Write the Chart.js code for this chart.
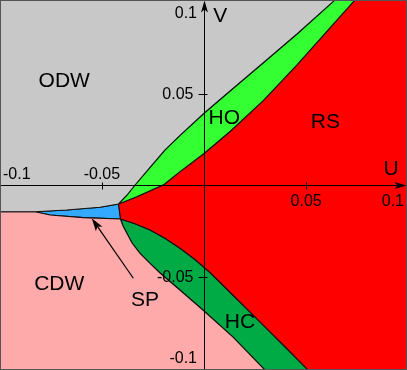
<!DOCTYPE html>
<html><head><meta charset="utf-8">
<script src="https://cdn.jsdelivr.net/npm/chart.js@4/dist/chart.umd.min.js"></script>
<style>html,body{margin:0;padding:0;background:#fff;}canvas{display:block}</style>
</head><body>
<canvas id="c" width="407" height="370"></canvas>
<script>
// Phase boundaries, as [U, V] pairs
const boundaryOdwHo = [[-0.04185,-0.01024],[-0.03769,-0.00531],[-0.03377,0.00016],[-0.02643,0.00974],[-0.01909,0.01932],[-0.01175,0.02726],[0,0.03941],[0.01273,0.05161],[0.02888,0.06694],[0.04552,0.08281],[0.06412,0.10142],[0.0727,0.11]];
const boundaryHoRs = [[-0.04185,-0.01024],[-0.03294,-0.00624],[-0.01958,0.00044],[-0.01175,0.00744],[0,0.01741],[0.01273,0.02945],[0.02888,0.04614],[0.04552,0.06585],[0.06167,0.0861],[0.07391,0.10142],[0.0808,0.11]];
const boundarySpTop = [[-0.08272,-0.01445],[-0.06721,-0.01352],[-0.0509,-0.01204],[-0.04185,-0.01024]];
const boundarySpBottom = [[-0.08272,-0.01445],[-0.07538,-0.01626],[-0.05922,-0.01773],[-0.04087,-0.01845]];
const boundaryCdwHc = [[-0.04087,-0.01861],[-0.03965,-0.02228],[-0.03779,-0.02627],[-0.03524,-0.03158],[-0.03133,-0.03722],[-0.02643,-0.0428],[-0.02153,-0.048],[-0.01013,-0.05895],[0,-0.0688],[0.01434,-0.0832],[0.02903,-0.10016],[0.0375,-0.11]];
const boundaryHcRs = [[-0.04087,-0.01845],[-0.03377,-0.02107],[-0.02643,-0.02447],[-0.01909,-0.02901],[-0.01175,-0.03448],[-0.00441,-0.04061],[0.00294,-0.04773],[0.01434,-0.06032],[0.02741,-0.07482],[0.04048,-0.08933],[0.04944,-0.09945],[0.0588,-0.11]];
const leftEdgeV = -0.01445;

const phaseNames = ['ODW','HO','RS','CDW','SP','HC'];
const phaseLabelU = [-0.06843,0.00994,0.05947,-0.07088,-0.02888,0.01762];
const phaseLabelV = [0.05807,0.03738,0.0353,-0.0532,-0.06185,-0.07416];
const phaseColors = ['#c8c8c8','#33ff33','#ff0000','#ffaaaa','#33aaff','#00aa44'];

const xTickValues = [-0.1,-0.05,0.05,0.1];
const xTickLabels = ['-0.1','-0.05','0.05','0.1'];
const yTickValues = [0.1,0.05,-0.05,-0.1];
const yTickLabels = ['0.1','0.05','-0.05','-0.1'];
const axisNames = ['U','V'];
const axisNameU = [0.09163,0.00798];
const axisNameV = [0.00974,0.09365];
const spArrowTail = [-0.03461,-0.0509];
const spArrowTip = [-0.05497,-0.01806];

const OUT = 0.11;
const rev = a => a.slice().reverse();
const close = a => a.concat([a[0]]);
const polyODW = close([[-OUT,OUT]].concat(rev(boundaryOdwHo), rev(boundarySpTop), [[-OUT,leftEdgeV]]));
const polyHO = close(boundaryOdwHo.concat(rev(boundaryHoRs)));
const polyRS = close(boundaryHoRs.concat([[OUT,OUT],[OUT,-OUT]], rev(boundaryHcRs)));
const polyCDW = close([[-OUT,leftEdgeV]].concat(boundarySpBottom, boundaryCdwHc, [[-OUT,-OUT]]));
const polySP = close(boundarySpTop.concat(rev(boundarySpBottom)));
const polyHC = close(boundaryHcRs.concat(rev(boundaryCdwHc)));
const polys = [polyODW, polyHO, polyRS, polyCDW, polySP, polyHC];

const datasets = polys.map((p,i) => ({
  label: phaseNames[i],
  data: p.map(([x,y]) => ({x,y})),
  backgroundColor: phaseColors[i],
  borderColor: '#111',
  borderWidth: 1.1,
  fill: 'shape',
  pointRadius: 0,
  tension: 0
}));

function arrowHead(ctx, tx, ty, ang, len, half, notch) {
  ctx.save(); ctx.translate(tx, ty); ctx.rotate(ang);
  ctx.beginPath(); ctx.moveTo(0,0); ctx.lineTo(-len,-half); ctx.lineTo(-len+notch,0); ctx.lineTo(-len,half); ctx.closePath(); ctx.fill();
  ctx.restore();
}

const overlay = {
  id: 'overlay',
  afterDatasetsDraw(chart) {
    const {ctx, chartArea: a} = chart;
    const sx = chart.scales.x, sy = chart.scales.y;
    const px = v => sx.getPixelForValue(v), py = v => sy.getPixelForValue(v);
    const x0 = Math.round(px(0)) + 0.5, y0 = Math.round(py(0)) + 0.5;
    ctx.save();
    ctx.strokeStyle = '#000'; ctx.fillStyle = '#000'; ctx.lineWidth = 1;
    // axes
    ctx.beginPath(); ctx.moveTo(a.left, y0); ctx.lineTo(a.right - 6, y0); ctx.stroke();
    arrowHead(ctx, a.right - 0.5, y0, 0, 12, 3.5, 3);
    ctx.beginPath(); ctx.moveTo(x0, a.bottom); ctx.lineTo(x0, a.top + 6); ctx.stroke();
    arrowHead(ctx, x0, a.top + 0.5, -Math.PI/2, 12, 3.5, 3);
    // ticks
    ctx.beginPath();
    [-0.05, 0.05].forEach(v => { const p = Math.round(px(v)) + 0.5; ctx.moveTo(p, y0 - 3); ctx.lineTo(p, y0 + 4); });
    [-0.05, 0.05].forEach(v => { const p = Math.round(py(v)) + 0.5; ctx.moveTo(x0 - 6, p); ctx.lineTo(x0 + 3, p); });
    ctx.stroke();
    // tick labels
    ctx.font = '16px "Liberation Sans", Arial, sans-serif';
    ctx.textBaseline = 'alphabetic';
    ctx.textAlign = 'center';
    xTickValues.forEach((v, i) => {
      const t = xTickLabels[i];
      const w = ctx.measureText(t).width;
      let cx = Math.min(Math.max(px(v), a.left + w/2 + 3), a.right - w/2 - 3);
      const by = v < 0 ? y0 - 7 : y0 + 20.5;
      ctx.fillText(t, cx, by);
    });
    ctx.textAlign = 'right';
    yTickValues.forEach((v, i) => {
      const t = yTickLabels[i];
      const gap = Math.abs(v) > 0.07 ? 7.5 : 11;
      const by = Math.min(Math.max(py(v) + 5, a.top + 18.3), a.bottom - 7);
      ctx.fillText(t, x0 - gap, by);
    });
    // phase and axis names
    ctx.font = '21px "Liberation Sans", Arial, sans-serif';
    ctx.textAlign = 'center';
    phaseNames.forEach((n, i) => ctx.fillText(n, px(phaseLabelU[i]), py(phaseLabelV[i]) + 7.5));
    axisNames.forEach((n, i) => ctx.fillText(n, px(axisNameU[i]), py(axisNameV[i]) + 7.5));
    // SP arrow
    const tx = px(spArrowTip[0]), ty = py(spArrowTip[1]);
    const fx = px(spArrowTail[0]), fy = py(spArrowTail[1]);
    const ang = Math.atan2(ty - fy, tx - fx);
    ctx.lineWidth = 1.2;
    ctx.beginPath(); ctx.moveTo(fx, fy); ctx.lineTo(tx - 8*Math.cos(ang), ty - 8*Math.sin(ang)); ctx.stroke();
    arrowHead(ctx, tx, ty, ang, 13, 4, 3);
    // frame
    ctx.lineWidth = 1;
    ctx.strokeStyle = '#555';
    ctx.strokeRect(a.left + 0.5, a.top + 0.5, a.right - a.left - 1, a.bottom - a.top - 1);
    ctx.restore();
  }
};

new Chart(document.getElementById('c'), {
  type: 'line',
  data: { datasets },
  options: {
    responsive: false, animation: false, devicePixelRatio: 1,
    layout: { padding: 0 },
    plugins: { legend: { display: false }, tooltip: { enabled: false } },
    scales: {
      x: { type: 'linear', min: -0.0999, max: 0.0994, display: false },
      y: { type: 'linear', min: -0.1011, max: 0.1014, display: false }
    }
  },
  plugins: [overlay]
});
</script>
</body></html>
